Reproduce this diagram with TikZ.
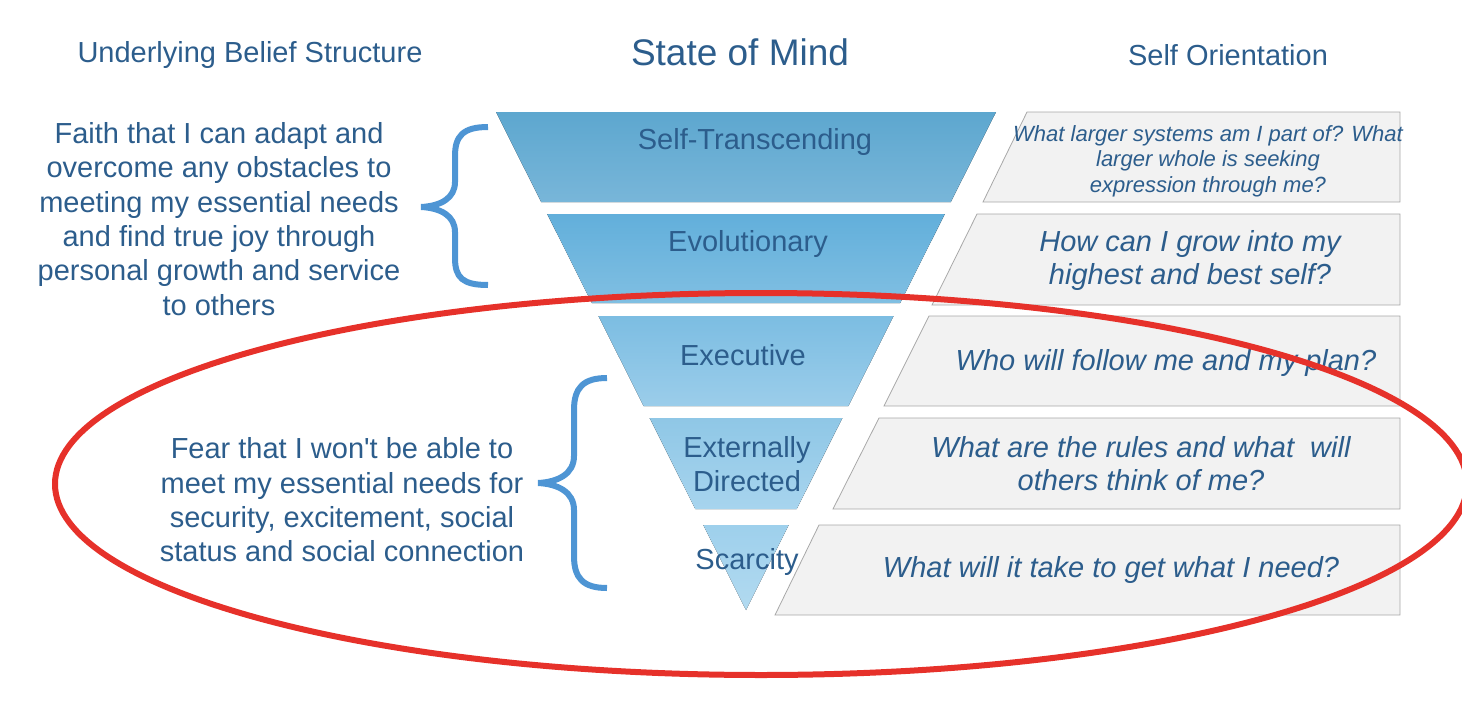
\documentclass[tikz,border=0pt]{standalone}
\usepackage{fontspec}
\setmainfont{Liberation Sans}
\usetikzlibrary{positioning}
\definecolor{txtblue}{HTML}{2C5D8C}
\definecolor{bracecol}{HTML}{4E95D4}
\definecolor{boxfill}{HTML}{F2F2F2}
\definecolor{boxline}{HTML}{A8A8A8}
\definecolor{ringred}{HTML}{E6312A}
\definecolor{fa}{HTML}{5DA7CF}
\definecolor{fb}{HTML}{78B6D9}
\definecolor{fc}{HTML}{62AFDB}
\definecolor{fd}{HTML}{80BFE2}
\definecolor{fe}{HTML}{7CBDE2}
\definecolor{ff}{HTML}{9BCDEA}
\definecolor{fg}{HTML}{8FC7E6}
\definecolor{fh}{HTML}{A7D4EE}
\definecolor{fi}{HTML}{9ED0EC}
\definecolor{fj}{HTML}{B2DAF0}

\begin{document}
\begin{tikzpicture}[x=1pt,y=-1pt,
	title/.style={text=txtblue,font=\fontsize{29}{34}\selectfont},
	bandlabel/.style={text=txtblue,font=\fontsize{29}{34}\selectfont,align=center},
	belief/.style={text=txtblue,font=\fontsize{29}{34.4}\selectfont,align=center},
	question/.style={text=txtblue,font=\fontsize{29}{33}\selectfont\itshape,align=center},
	qbox/.style={fill=boxfill,draw=boxline,line width=0.8pt},
	brace/.style={draw=bracecol,line width=6pt}]

	\useasboundingbox (0,0) rectangle (1462,720);

	% headings
	\node[title] (belieftitle) at (250,55) {Underlying Belief Structure};
	\node[title,font=\fontsize{37}{40}\selectfont] (mindtitle) at (740,52) {State of Mind};
	\node[title] (selftitle) at (1228,55) {Self Orientation};

	% funnel, apex at (746,610)
	\foreach \t/\b/\ct/\cb in {112/202/fa/fb,214/303/fc/fd,316/406/fe/ff,418/509/fg/fh,525/610/fi/fj}
		\fill[top color=\ct,bottom color=\cb] ({746-(610-\t)*0.502},\t) -- ({746+(610-\t)*0.502},\t)
			-- ({746+(610-\b)*0.502},\b) -- ({746-(610-\b)*0.502},\b) -- cycle;

	\node[bandlabel] (selftrans) at (755,142) {Self-Transcending};
	\node[bandlabel] (evol) at (748,244) {Evolutionary};
	\node[bandlabel] (exec) at (743,355) {Executive};
	\node[bandlabel] (extdir) at (747,464) {Externally\\Directed};
	\node[bandlabel] (scarce) at (747,562) {Scarcity};

	% question boxes
	\foreach \t/\b/\xt/\xb in {112/202/1027/983,214/305/977/932,316/406/929/884,418/509/879/833,525/615/819/775}
		\filldraw[qbox] (\xt,\t) -- (1400,\t) -- (1400,\b) -- (\xb,\b) -- cycle;

	\node[question,font=\fontsize{22}{25.5}\selectfont\itshape] (q1) at (1208,161)
		{What larger systems am I part of? What\\larger whole is seeking\\expression through me?};
	\node[question] (q2) at (1190,260) {How can I grow into my\\highest and best self?};
	\node[question] (q3) at (1166,363) {Who will follow me and my plan?};
	\node[question] (q4) at (1141,464) {What are the rules and what~ will\\others think of me?};
	\node[question] (q5) at (1111,570) {What will it take to get what I need?};

	% beliefs and braces
	\node[belief] (faith) at (219,219) {Faith that I can adapt and\\overcome any obstacles to\\meeting my essential needs\\and find true joy through\\personal growth and service\\to others};
	\node[belief] (fear) at (342,500) {Fear that I won\textquotesingle t be able to\\meet my essential needs for\\security, excitement, social\\status and social connection};

	\draw[brace] (488,127) .. controls (463,127) and (455,136) .. (455,156) -- (455,182)
		.. controls (455,198) and (441,206) .. (421,207) .. controls (441,208) and (455,216) .. (455,232)
		-- (455,258) .. controls (455,278) and (463,285) .. (488,285);
	\draw[brace] (607,378) .. controls (583,378) and (574,388) .. (574,410) -- (574,456)
		.. controls (574,474) and (558,482) .. (538,483) .. controls (558,484) and (574,492) .. (574,510)
		-- (574,556) .. controls (574,578) and (583,588) .. (607,588);

	% red ring over the lower part
	\draw[ringred,line width=6pt] (761,484) ellipse [x radius=706,y radius=191];
\end{tikzpicture}
\end{document}
